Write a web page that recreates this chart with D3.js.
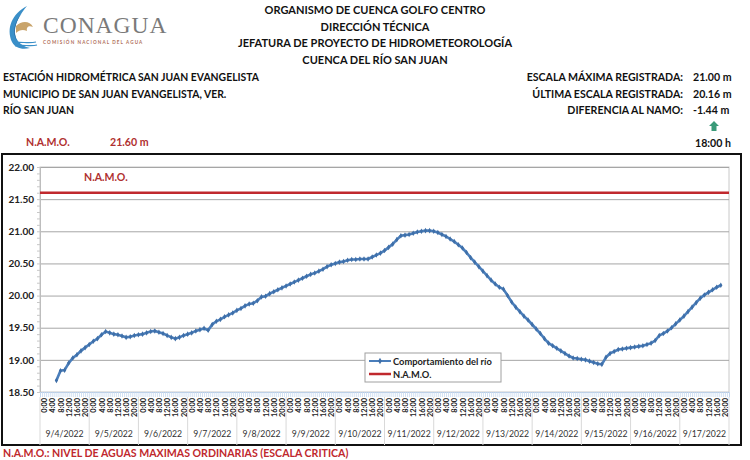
<!DOCTYPE html>
<html><head><meta charset="utf-8">
<script src="https://cdn.jsdelivr.net/npm/d3@7"></script>
<style>
html,body{margin:0;padding:0;background:#fff;}
svg{display:block;font-family:Lato,"Open Sans",sans-serif;}
</style></head>
<body><svg id="c" width="750" height="460"></svg>
<script>
// ---------- data ----------
const headerLines = ["ORGANISMO DE CUENCA GOLFO CENTRO","DIRECCIÓN TÉCNICA","JEFATURA DE PROYECTO DE HIDROMETEOROLOGÍA","CUENCA DEL RÍO SAN JUAN"];
const stationLines = ["ESTACIÓN HIDROMÉTRICA SAN JUAN EVANGELISTA","MUNICIPIO DE SAN JUAN EVANGELISTA, VER.","RÍO SAN JUAN"];
const infoLabels = ["ESCALA MÁXIMA REGISTRADA:","ÚLTIMA ESCALA REGISTRADA:","DIFERENCIA AL NAMO:"];
const infoValues = ["21.00 m","20.16 m","-1.44 m"];
const days = ["9/4/2022","9/5/2022","9/6/2022","9/7/2022","9/8/2022","9/9/2022","9/10/2022","9/11/2022","9/12/2022","9/13/2022","9/14/2022","9/15/2022","9/16/2022","9/17/2022"];
const hourLabels = ["0:00","4:00","8:00","12:00","16:00","20:00"];
const yTicks = [18.5,19,19.5,20,20.5,21,21.5,22];
const namo = 21.60;
const startHour = 6;   // first reading: 9/4/2022 6:00
const stepHours = 2;   // readings every 2 h
const levels = [
 18.68,18.83,18.84,18.95,19.03,19.08,19.14,19.19,19.24,19.29,19.33,19.39,19.44,
 19.42,19.40,19.39,19.37,19.35,19.36,19.38,19.39,19.40,19.42,19.44,19.45,
 19.43,19.41,19.38,19.35,19.33,19.35,19.38,19.40,19.42,19.45,19.47,19.49,
 19.46,19.55,19.60,19.63,19.67,19.70,19.73,19.77,19.80,19.84,19.87,19.88,
 19.92,19.98,19.99,20.03,20.06,20.09,20.12,20.15,20.18,20.21,20.24,20.27,
 20.30,20.33,20.35,20.38,20.41,20.45,20.48,20.50,20.52,20.53,20.55,20.56,
 20.56,20.57,20.57,20.57,20.60,20.63,20.66,20.70,20.75,20.80,20.87,20.93,
 20.94,20.95,20.97,20.99,21.00,21.01,21.01,21.00,20.98,20.95,20.92,20.88,
 20.84,20.79,20.74,20.67,20.59,20.52,20.45,20.38,20.31,20.24,20.18,20.13,
 20.10,20.00,19.90,19.82,19.75,19.68,19.62,19.55,19.48,19.41,19.33,19.26,
 19.22,19.18,19.14,19.10,19.06,19.03,19.02,19.01,19.00,18.98,18.96,18.94,
 18.93,19.04,19.10,19.13,19.16,19.17,19.18,19.19,19.20,19.21,19.22,19.24,
 19.26,19.30,19.38,19.41,19.45,19.50,19.56,19.62,19.68,19.75,19.82,19.89,
 19.96,20.01,20.05,20.09,20.13,20.16
];
const series = levels.map((v,i)=>({h:startHour+i*stepHours, v}));

// ---------- drawing ----------
const svg = d3.select("#c");
const red = "#c0282d", darkRed="#b03030", blue="#4a7ebb";
const L=40, R=729, T=167, B=392;
const totalH = days.length*24;
const x = d3.scaleLinear().domain([-2, totalH-2]).range([L,R]);
const y = d3.scaleLinear().domain([18.5,22]).range([B,T]);

// logo
const logo = svg.append("g");
logo.append("path").attr("d","M27,6 C12,14 6,28 12,42 C15,48 22,50 30,48 C20,46 13,38 15,28 C17,19 22,12 27,6 Z").attr("fill","#3a8fc8");
logo.append("path").attr("d","M22,13 C14,22 12,33 17,41 C13,32 15,22 22,13 Z").attr("fill","#1f5f97");
logo.append("path").attr("d","M16,26 C22,20 30,21 33,27 C29,25 26,27 27,31 C23,29 19,30 16,33 Z").attr("fill","#c9a46b");
logo.append("path").attr("d","M13,43 C20,41 28,44 36,42 M15,46 C22,44 30,47 37,45").attr("stroke","#3a8fc8").attr("fill","none").attr("stroke-width",1.2);
logo.append("text").attr("x",43).attr("y",33).attr("font-family","'Liberation Serif',serif").attr("font-size",23.5).attr("letter-spacing",1).attr("fill","#7a7a7a").text("CONAGUA");
logo.append("text").attr("x",43).attr("y",44).attr("font-size",4.6).attr("letter-spacing",1.1).attr("fill","#b0705a").attr("font-weight","bold").text("COMISIÓN NACIONAL DEL AGUA");

// header
svg.append("g").selectAll("text").data(headerLines).join("text")
  .attr("x",375).attr("y",(d,i)=>14+i*16.5).attr("text-anchor","middle")
  .attr("font-size",11).attr("font-weight","bold").attr("fill","#111").text(d=>d);

svg.append("g").selectAll("text").data(stationLines).join("text")
  .attr("x",3).attr("y",(d,i)=>81+i*16.5).attr("font-size",10.4).attr("font-weight","bold").attr("fill","#111").text(d=>d);

svg.append("g").selectAll("text").data(infoLabels).join("text")
  .attr("x",683).attr("y",(d,i)=>81+i*16.5).attr("text-anchor","end").attr("font-size",10.6).attr("font-weight","bold").attr("fill","#111").text(d=>d);
svg.append("g").selectAll("text").data(infoValues).join("text")
  .attr("x",693).attr("y",(d,i)=>81+i*16.5).attr("font-size",10.6).attr("font-weight","bold").attr("fill","#111").text(d=>d);
// green arrow
svg.append("path").attr("d","M714,121 L719,126 L716.5,126 L716.5,131 L711.5,131 L711.5,126 L709,126 Z").attr("fill","#3a9a78");
svg.append("text").attr("x",695).attr("y",147).attr("font-size",10.6).attr("font-weight","bold").attr("fill","#111").text("18:00 h");

svg.append("text").attr("x",26).attr("y",146).attr("font-size",10.6).attr("font-weight","bold").attr("fill",darkRed).text("N.A.M.O.");
svg.append("text").attr("x",110).attr("y",146).attr("font-size",10.6).attr("font-weight","bold").attr("fill",darkRed).text(namo.toFixed(2)+" m");

// outer frame
svg.append("rect").attr("x",2).attr("y",154).attr("width",739).attr("height",291).attr("fill","none").attr("stroke","#111").attr("stroke-width",2);

// plot area border
svg.append("rect").attr("x",L).attr("y",T).attr("width",R-L).attr("height",B-T).attr("fill","none").attr("stroke","#c8c8c8").attr("stroke-width",1);

// gridlines
svg.append("g").attr("transform",`translate(${L},0)`)
  .call(d3.axisLeft(y).tickValues(yTicks.slice(1)).tickSize(-(R-L)).tickFormat(""))
  .call(g=>g.select(".domain").remove())
  .call(g=>g.selectAll("line").attr("stroke","#a6a6a6").attr("stroke-width",1));

// minor y ticks
svg.append("g").attr("transform",`translate(${L},0)`)
  .call(d3.axisLeft(y).tickValues(d3.range(18.5,22.001,0.1)).tickSize(3).tickFormat(""))
  .call(g=>g.select(".domain").attr("stroke","#bdbdbd"))
  .call(g=>g.selectAll("line").attr("stroke","#c8c8c8"));

// y labels
svg.append("g").attr("transform",`translate(${L},0)`)
  .call(d3.axisLeft(y).tickValues(yTicks).tickSize(0).tickPadding(6).tickFormat(d3.format(".2f")))
  .call(g=>g.select(".domain").remove())
  .call(g=>g.selectAll("text").attr("font-size",10).attr("font-weight","bold").attr("fill","#222").attr("font-family","Lato,sans-serif"));

// hourly light-blue ticks band
svg.append("g").attr("transform",`translate(0,${B})`)
  .call(d3.axisBottom(x).tickValues(d3.range(-2,totalH-1,1)).tickSize(5).tickFormat(""))
  .call(g=>g.select(".domain").attr("stroke","#b8cce4"))
  .call(g=>g.selectAll("line").attr("stroke","#c6d9f0").attr("stroke-width",0.8));

// rotated hour labels
const hourTicks = d3.range(0,totalH,4);
svg.append("g").attr("transform",`translate(0,${B+5})`)
  .call(d3.axisBottom(x).tickValues(hourTicks).tickSize(0).tickPadding(0).tickFormat(t=>hourLabels[(t/4)%6]))
  .call(g=>g.select(".domain").remove())
  .call(g=>g.selectAll("text").attr("font-size",7.4).attr("font-weight","bold").attr("fill","#222").attr("font-family","Lato,sans-serif")
     .attr("text-anchor","end").attr("transform","rotate(-90)").attr("x",-1).attr("y",0).attr("dy","0.35em"));

// day separators & labels
const dayScale = d3.scaleBand().domain(days).range([L,R]);
svg.append("g").selectAll("line").data(d3.range(days.length+1)).join("line")
  .attr("x1",i=>x(i*24-2)).attr("x2",i=>x(i*24-2)).attr("y1",B+5).attr("y2",445)
  .attr("stroke","#d9d9d9").attr("stroke-width",1);
svg.append("g").attr("transform",`translate(0,${B+36})`)
  .call(d3.axisBottom(dayScale).tickSize(0))
  .call(g=>g.select(".domain").remove())
  .call(g=>g.selectAll("text").attr("font-size",8.7).attr("fill","#333").attr("font-family","Lato,sans-serif"));

// NAMO line
svg.append("line").attr("x1",L).attr("x2",R).attr("y1",y(namo)).attr("y2",y(namo)).attr("stroke",red).attr("stroke-width",2.5);
svg.append("text").attr("x",84).attr("y",y(namo)-12).attr("font-size",10.6).attr("font-weight","bold").attr("fill",darkRed).text("N.A.M.O.");

// series line
svg.append("path").datum(series)
  .attr("d",d3.line().x(d=>x(d.h)).y(d=>y(d.v)))
  .attr("fill","none").attr("stroke",blue).attr("stroke-width",2.6);
svg.append("g").selectAll("path").data(series).join("path")
  .attr("d",d3.symbol(d3.symbolDiamond,9))
  .attr("transform",d=>`translate(${x(d.h)},${y(d.v)})`).attr("fill","#3f6fa8");

// legend
const lg = svg.append("g").attr("transform","translate(365,353)");
lg.append("rect").attr("width",136).attr("height",29).attr("fill","#fff").attr("stroke","#a0a0a0");
lg.append("line").attr("x1",4).attr("x2",26).attr("y1",8).attr("y2",8).attr("stroke",blue).attr("stroke-width",2);
lg.append("path").attr("d",d3.symbol(d3.symbolDiamond,12)).attr("transform","translate(15,8)").attr("fill","#3f6fa8");
lg.append("text").attr("x",28).attr("y",11.5).attr("font-size",9.3).attr("font-weight","bold").attr("fill","#222").text("Comportamiento del río");
lg.append("line").attr("x1",4).attr("x2",26).attr("y1",21).attr("y2",21).attr("stroke",red).attr("stroke-width",2.5);
lg.append("text").attr("x",28).attr("y",24.5).attr("font-size",9.3).attr("font-weight","bold").attr("fill","#222").text("N.A.M.O.");

// footer
svg.append("text").attr("x",3).attr("y",457).attr("font-size",10.6).attr("font-weight","bold").attr("fill",red).text("N.A.M.O.: NIVEL DE AGUAS MAXIMAS ORDINARIAS (ESCALA CRITICA)");
</script></body></html>
